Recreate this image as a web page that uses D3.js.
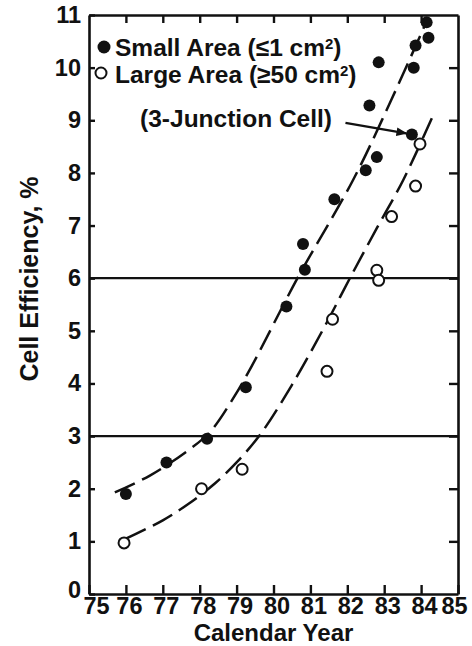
<!DOCTYPE html>
<html>
<head>
<meta charset="UTF-8">
<title>Cell Efficiency</title>
<style>
  body { margin: 0; background: #fff; }
  svg text { font-family: "Liberation Sans", Arial, sans-serif; font-weight: bold; fill: #111; }
</style>
</head>
<body>
<div id="chart"></div>
<script src="https://cdn.jsdelivr.net/npm/d3@7/dist/d3.min.js"></script>
<script>
// values
var smallYears = [76.0, 77.1, 78.2, 79.25, 80.35, 80.85, 80.8, 81.65, 82.5, 82.8, 82.6, 82.85, 83.75, 83.8, 83.85, 84.15, 84.2];
var smallEff   = [1.9, 2.5, 2.95, 3.93, 5.46, 6.16, 6.65, 7.5, 8.05, 8.3, 9.28, 10.1, 8.73, 10.0, 10.42, 10.86, 10.57];
var largeYears = [75.95, 78.05, 79.15, 81.45, 81.6, 82.8, 82.85, 83.2, 83.85, 83.97];
var largeEff   = [0.97, 2.0, 2.37, 4.23, 5.22, 6.15, 5.96, 7.17, 7.75, 8.55];
// hand drawn trend curves
var smallCurveX = [75.7, 76.65, 77.69, 78.28, 78.91, 79.41, 80.65, 82.16, 83.2, 84.15];
var smallCurveY = [1.93, 2.25, 2.73, 3.08, 3.72, 4.33, 6.0, 7.87, 9.4, 10.88];
var largeCurveX = [76.0, 77.0, 77.69, 78.41, 79.0, 79.63, 80.49, 81.4, 82.07, 82.8, 83.52, 84.33];
var largeCurveY = [1.05, 1.4, 1.71, 2.1, 2.5, 3.02, 3.96, 5.1, 6.0, 6.95, 7.87, 9.1];
var refLines = [3, 6];
var xTicks = [75, 76, 77, 78, 79, 80, 81, 82, 83, 84, 85];
var yTicks = [0, 1, 2, 3, 4, 5, 6, 7, 8, 9, 10, 11];
var arrowFrom = [81.95, 8.95], arrowTo = [83.6, 8.75];

var W = 472, H = 646;
var svg = d3.select("#chart").append("svg").attr("width", W).attr("height", H);

var x = d3.scaleLinear().domain([75, 85]).range([89, 458]);
var y = d3.scaleLinear().domain([0, 11]).range([594, 15]);

svg.append("defs").append("marker")
    .attr("id", "head").attr("viewBox", "0 0 10 10")
    .attr("refX", 9).attr("refY", 5)
    .attr("markerWidth", 5).attr("markerHeight", 5)
    .attr("orient", "auto")
  .append("path").attr("d", "M0,1 L10,5 L0,9 Z").attr("fill", "#111");

// horizontal reference lines
svg.selectAll("line.ref").data(refLines).enter().append("line")
    .attr("class", "ref")
    .attr("x1", x(75)).attr("x2", x(85))
    .attr("y1", function(d){ return y(d); }).attr("y2", function(d){ return y(d); })
    .attr("stroke", "#111").attr("stroke-width", 2.2);

// axes (ticks point inward)
var gB = svg.append("g").attr("transform", "translate(0," + y(0) + ")")
    .call(d3.axisBottom(x).tickValues(xTicks).tickSizeInner(-9).tickSizeOuter(0).tickPadding(3));
var gT = svg.append("g").attr("transform", "translate(0," + y(11) + ")")
    .call(d3.axisTop(x).tickValues(xTicks.slice(1, -1)).tickSizeInner(-8).tickSizeOuter(0).tickFormat(""));
var gL = svg.append("g").attr("transform", "translate(" + x(75) + ",0)")
    .call(d3.axisLeft(y).tickValues(yTicks).tickSizeInner(-6).tickSizeOuter(0).tickPadding(8));
var gR = svg.append("g").attr("transform", "translate(" + x(85) + ",0)")
    .call(d3.axisRight(y).tickValues(yTicks.slice(1, -1)).tickSizeInner(-9).tickSizeOuter(0).tickFormat(""));

[gB, gT, gL, gR].forEach(function(g){
  g.select(".domain").attr("stroke", "#111").attr("stroke-width", 2.6);
  g.selectAll(".tick text").attr("font-size", 23.5).attr("fill", "#111")
    .style("font-family", "'Liberation Sans', Arial, sans-serif").style("font-weight", "bold");
  g.selectAll(".tick line").attr("stroke", "#111").attr("stroke-width", 2.4);
});
// end labels pulled in at the corners, the rest a little right of their ticks
gB.selectAll(".tick text").attr("dx", function(d){ return d === 75 ? 7 : d === 85 ? -4 : 3; });
gL.selectAll(".tick text").filter(function(d){ return d === 0; }).attr("y", -4);

// trend curves
var line = d3.line().x(function(d){ return x(d[0]); }).y(function(d){ return y(d[1]); })
    .curve(d3.curveCatmullRom.alpha(0.5));
[[smallCurveX, smallCurveY], [largeCurveX, largeCurveY]].forEach(function(c){
  svg.append("path")
    .datum(d3.zip(c[0], c[1]))
    .attr("d", line)
    .attr("fill", "none").attr("stroke", "#111").attr("stroke-width", 2.5)
    .attr("stroke-dasharray", "22,8");
});

// points
svg.selectAll("circle.small").data(d3.zip(smallYears, smallEff)).enter().append("circle")
    .attr("class", "small")
    .attr("cx", function(d){ return x(d[0]); }).attr("cy", function(d){ return y(d[1]); })
    .attr("r", 6).attr("fill", "#111");
svg.selectAll("circle.large").data(d3.zip(largeYears, largeEff)).enter().append("circle")
    .attr("class", "large")
    .attr("cx", function(d){ return x(d[0]); }).attr("cy", function(d){ return y(d[1]); })
    .attr("r", 5.5).attr("fill", "#fff").attr("stroke", "#111").attr("stroke-width", 2);

// annotation
svg.append("line")
    .attr("x1", x(arrowFrom[0])).attr("y1", y(arrowFrom[1]))
    .attr("x2", x(arrowTo[0])).attr("y2", y(arrowTo[1]))
    .attr("stroke", "#111").attr("stroke-width", 2.2)
    .attr("marker-end", "url(#head)");
svg.append("text").attr("x", 332).attr("y", 127).attr("text-anchor", "end")
    .attr("font-size", 24.5).text("(3-Junction Cell)");

// legend
svg.append("circle").attr("cx", 104).attr("cy", 47).attr("r", 6.5).attr("fill", "#111");
svg.append("circle").attr("cx", 101).attr("cy", 73).attr("r", 5.5)
    .attr("fill", "#fff").attr("stroke", "#111").attr("stroke-width", 2);
var t1 = svg.append("text").attr("x", 115).attr("y", 56).attr("font-size", 24.5);
t1.append("tspan").text("Small Area (\u22641 cm");
t1.append("tspan").attr("font-size", 15).attr("dy", -7).text("2");
t1.append("tspan").attr("dy", 7).text(")");
var t2 = svg.append("text").attr("x", 115).attr("y", 83).attr("font-size", 24.5);
t2.append("tspan").text("Large Area (\u226550 cm");
t2.append("tspan").attr("font-size", 15).attr("dy", -7).text("2");
t2.append("tspan").attr("dy", 7).text(")");

// axis titles
svg.append("text").attr("x", (x(75) + x(85)) / 2).attr("y", 641)
    .attr("text-anchor", "middle").attr("font-size", 24).text("Calendar Year");
svg.append("text").attr("transform", "translate(38,279) rotate(-90)")
    .attr("text-anchor", "middle").attr("font-size", 25).text("Cell Efficiency, %");
</script>
</body>
</html>
